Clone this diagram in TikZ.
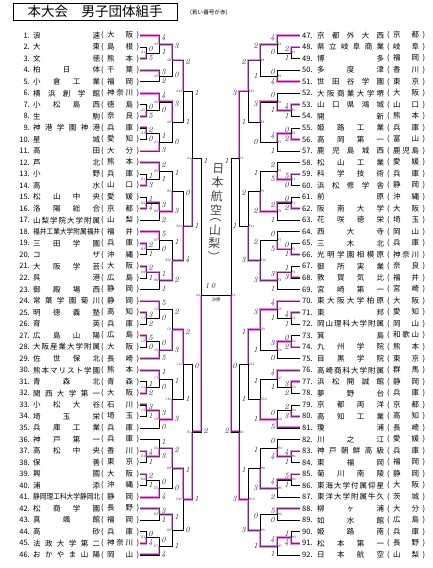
\documentclass[tikz,border=0pt]{standalone}
\usepackage{fontspec}
\usepackage{graphicx}
\usetikzlibrary{calc}
\newfontfamily\jp{Noto Sans CJK JP}
\definecolor{pinkhl}{RGB}{232,140,222}
\definecolor{purp}{RGB}{120,40,120}
\pgfdeclarelayer{bg}
\pgfsetlayers{bg,main}

% spread the characters of a name over a box
\def\sprd#1#2\sprdend{#1\if\relax\detokenize{#2}\relax\else\hfill\sprd#2\sprdend\fi}
\newcommand\namebox[2]{\setbox0\hbox{#2}%
  \ifdim\wd0>#1\relax\resizebox{#1}{\height}{#2}\else\hbox to #1{\expandafter\sprd#2\sprdend}\fi}
\newcommand\prefbox[1]{\hbox to 38pt{(\hfil\hbox to 26pt{\expandafter\sprd#1\sprdend}\hfil)}}

% one match: name, x, top, bottom, winner, label, top score, bottom score, side
\newcommand\bout[9]{%
  \path let \p1=($(#3)!.5!(#4)$) in coordinate (#1) at (#2pt,\y1);
  \begin{pgfonlayer}{bg}
    \ifnum#5=1 \draw[hl] (#3) -- (#3 -| #1) -- (#1);
    \else \draw[hl] (#4) -- (#4 -| #1) -- (#1); \fi
  \end{pgfonlayer}
  \draw[ln] (#3) -- (#3 -| #1) -- (#4 -| #1) -- (#4);
  \ifnum#5=1 \draw[wn] (#3) -- (#3 -| #1) -- (#1);
  \else \draw[wn] (#4) -- (#4 -| #1) -- (#1); \fi
  \ifnum#9>0 \node[lbl,anchor=east] at ($(#1)+(-0.6,0)$) {#6};
  \else \node[lbl,anchor=west] at ($(#1)+(0.6,0)$) {#6}; \fi
  \node[sc] at ($(#3 -| #1)+(#9*4.5,2)$) {#7};
  \node[sc] at ($(#4 -| #1)+(#9*4.5,-0.5)$) {#8};
}

\begin{document}
\begin{tikzpicture}[x=1pt,y=-1pt,
    team/.style={inner sep=0pt,font=\jp\fontsize{7.5}{8}\selectfont},
    ln/.style={line width=0.55pt,black},
    wn/.style={line width=0.75pt,purp},
    hl/.style={line width=2.8pt,pinkhl},
    lbl/.style={inner sep=0pt,font=\jp\fontsize{3.2}{3.2}\selectfont,black!75},
    sc/.style={inner sep=0pt,font=\itshape\fontsize{8}{8}\selectfont,black!85},
    hand/.style={inner sep=0pt,font=\jp\fontsize{12}{13.5}\selectfont,black!75}]
\useasboundingbox (0,0) rectangle (432,568);

% title
\node[draw,line width=0.8pt,minimum width=164pt,minimum height=17pt,inner sep=0pt,
      font=\jp\fontsize{13.5}{14}\selectfont] (title) at (95,11.5) {本大会　男子団体組手};
\node[inner sep=0pt,anchor=west,font=\jp\fontsize{5.6}{6}\selectfont] (note) at (190,13) {(若い番号が赤)};

% teams, left
\foreach \n/\p [count=\i] in {浪速/大阪,大東/島根,文徳/熊本,柏日体/千葉,小倉工業/福岡,
    横浜創学館/神奈川,小松島西/徳島,生駒/奈良,神港学園神港/兵庫,星城/愛知,高田/大分,
    芦北/熊本,小野/兵庫,高水/山口,松山中央/愛媛,洛陽総合/京都,山梨学院大学附属/山梨,
    福井工業大学附属福井/福井,三田学園/兵庫,コザ/沖縄,大阪学芸/大阪,呉港/広島,御殿場西/静岡,
    常葉学園菊川/静岡,明徳義塾/高知,育英/兵庫,広島山陽/広島,大阪産業大学附属/大阪,佐世保北/長崎,
    熊本マリスト学園/熊本,青森北/青森,関西大学第一/大阪,小松大谷/石川,埼玉栄/埼玉,兵庫工業/兵庫,
    神戸第一/兵庫,高松中央/香川,保善/東京,興國/大阪,浦添/沖縄,静岡理工科大学静岡北/静岡,
    松商学園/長野,真颯館/福岡,高砂/兵庫,法政大学第二/神奈川,おかやま山陽/岡山}{
  \pgfmathsetmacro\yy{35.5+(\i-1)*11.54}
  \node[team,anchor=east] (n\i) at (30,\yy) {\i.};
  \node[team,anchor=west] (s\i) at (33,\yy) {\namebox{67pt}{\n}};
  \node[team,anchor=west] (p\i) at (101,\yy) {\prefbox{\p}};
  \coordinate (t\i) at (139.5,\yy);
}

% teams, right
\foreach \n/\p [count=\i from 47] in {京都外大西/京都,県立岐阜商業/岐阜,博多/福岡,多度津/香川,
    世田谷学園/東京,大阪商業大学堺/大阪,山口県鴻城/山口,開新/熊本,姫路工業/兵庫,高岡第一/富山,
    鹿児島城西/鹿児島,松山工業/愛媛,科学技術/兵庫,浜松修学舎/静岡,前原/沖縄,阪南大学/大阪,
    花咲徳栄/埼玉,西大寺/岡山,三木北/兵庫,光明学園相模原/神奈川,御所実業/奈良,敦賀気比/福井,
    宮崎第一/宮崎,東大阪大学柏原/大阪,東邦/愛知,岡山理科大学附属/岡山,箕島/和歌山,九州学院/熊本,
    目黒学院/東京,高崎商科大学附属/群馬,浜松開誠館/静岡,夢野台/兵庫,京都両洋/京都,高知工業/高知,
    瓊浦/長崎,川之江/愛媛,神戸朝鮮高級/兵庫,東福岡/福岡,菊川南陵/静岡,東海大学付属仰星/大阪,
    東洋大学附属牛久/茨城,柳ヶ浦/大分,如水館/広島,姫路南/兵庫,松本第一/長野,日本航空/山梨}{
  \pgfmathsetmacro\yy{35.5+(\i-47)*11.54}
  \node[team,anchor=west] (n\i) at (302,\yy) {\i.};
  \node[team,anchor=west] (s\i) at (317,\yy) {\namebox{67pt}{\n}};
  \node[team,anchor=west] (p\i) at (387,\yy) {\prefbox{\p}};
  \coordinate (t\i) at (300,\yy);
}

% block A
\bout{A1}{146}{t2}{t3}{2}{A1}{0}{5}{1}
\bout{A2}{146}{t7}{t8}{2}{A2}{0}{5}{1}
\bout{A3}{146}{t9}{t10}{1}{A3}{2}{0}{1}
\bout{A4}{159}{t1}{A1}{1}{A4}{4}{1}{1}
\bout{A5}{159}{t4}{t5}{1}{A5}{3}{2}{1}
\bout{A6}{159}{t6}{A2}{1}{A6}{4}{0}{1}
\bout{A7}{159}{A3}{t11}{2}{A7}{1}{3}{1}
\bout{A8}{172}{A4}{A5}{1}{A8}{3}{0}{1}
\bout{A9}{172}{A6}{A7}{1}{A9}{3}{0}{1}
\bout{A10}{183}{A8}{A9}{1}{A10}{2}{1}{1}
% block B
\bout{B1}{146}{t13}{t14}{2}{B1}{1}{3}{1}
\bout{B2}{146}{t15}{t16}{2}{B2}{1}{4}{1}
\bout{B3}{146}{t19}{t20}{1}{B3}{2}{1}{1}
\bout{B4}{146}{t21}{t22}{1}{B4}{2}{1}{1}
\bout{B5}{159}{t12}{B1}{1}{B5}{2}{1}{1}
\bout{B6}{159}{B2}{t17}{1}{B6}{3}{2}{1}
\bout{B7}{159}{t18}{B3}{1}{B7}{5}{0}{1}
\bout{B8}{159}{B4}{t23}{1}{B8}{1}{1}{1}
\bout{B9}{172}{B5}{B6}{2}{B9}{1}{3}{1}
\bout{B10}{172}{B7}{B8}{2}{B10}{1}{2}{1}
\bout{B11}{183}{B9}{B10}{2}{B11}{0}{4}{1}
% block C
\bout{C1}{146}{t25}{t26}{1}{C1}{3}{2}{1}
\bout{C2}{146}{t27}{t28}{1}{C2}{5}{0}{1}
\bout{C3}{146}{t31}{t32}{2}{C3}{1}{2}{1}
\bout{C4}{146}{t33}{t34}{1}{C4}{3}{1}{1}
\bout{C5}{159}{t24}{C1}{1}{C5}{5}{0}{1}
\bout{C6}{159}{C2}{t29}{2}{C6}{0}{5}{1}
\bout{C7}{159}{t30}{C3}{1}{C7}{1}{0}{1}
\bout{C8}{159}{C4}{t35}{1}{C8}{3}{0}{1}
\bout{C9}{172}{C5}{C6}{2}{C9}{2}{3}{1}
\bout{C10}{172}{C7}{C8}{2}{C10}{1}{3}{1}
\bout{C11}{183}{C9}{C10}{1}{C11}{2}{1}{1}
% block D
\bout{D1}{146}{t37}{t38}{1}{D1}{4}{1}{1}
\bout{D2}{146}{t39}{t40}{1}{D2}{2}{1}{1}
\bout{D3}{146}{t44}{t45}{2}{D3}{0}{4}{1}
\bout{D4}{159}{t36}{D1}{2}{D4}{1}{3}{1}
\bout{D5}{159}{D2}{t41}{2}{D5}{0}{4}{1}
\bout{D6}{159}{t42}{t43}{1}{D6}{3}{1}{1}
\bout{D7}{159}{D3}{t46}{2}{D7}{0}{4}{1}
\bout{D8}{172}{D4}{D5}{1}{D8}{2}{0}{1}
\bout{D9}{172}{D6}{D7}{1}{D9}{1}{1}{1}
\bout{D10}{183}{D8}{D9}{1}{D10}{1}{0}{1}
% left semifinals and final
\bout{xAB}{192}{A10}{B11}{2}{A1}{1}{1}{1}
\bout{xCD}{192}{C11}{D10}{2}{B1}{0}{1}{1}
\bout{xL}{201}{xAB}{xCD}{2}{A2}{1}{2}{1}

% block E
\bout{E1}{291}{t48}{t49}{1}{E1}{2}{1}{-1}
\bout{E2}{291}{t53}{t54}{1}{E2}{4}{1}{-1}
\bout{E3}{291}{t55}{t56}{2}{E3}{0}{2}{-1}
\bout{E4}{277}{t47}{E1}{1}{E4}{4}{0}{-1}
\bout{E5}{277}{t50}{t51}{2}{E5}{0}{4}{-1}
\bout{E6}{277}{t52}{E2}{2}{E6}{0}{1}{-1}
\bout{E7}{277}{E3}{t57}{1}{E7}{4}{1}{-1}
\bout{E8}{260}{E4}{E5}{1}{E8}{2}{1}{-1}
\bout{E9}{260}{E6}{E7}{1}{E9}{3}{0}{-1}
\bout{E10}{248}{E8}{E9}{1}{E10}{2}{1}{-1}
% block F
\bout{F1}{291}{t59}{t60}{1}{F1}{5}{0}{-1}
\bout{F2}{291}{t61}{t62}{2}{F2}{0}{2}{-1}
\bout{F3}{291}{t65}{t66}{2}{F3}{0}{1}{-1}
\bout{F4}{291}{t67}{t68}{2}{F4}{1}{3}{-1}
\bout{F5}{277}{t58}{F1}{2}{F5}{2}{5}{-1}
\bout{F6}{277}{F2}{t63}{1}{F6}{2}{1}{-1}
\bout{F7}{277}{t64}{F3}{2}{F7}{0}{5}{-1}
\bout{F8}{277}{F4}{t69}{1}{F8}{3}{1}{-1}
\bout{F9}{260}{F5}{F6}{2}{F9}{1}{2}{-1}
\bout{F10}{260}{F7}{F8}{2}{F10}{2}{3}{-1}
\bout{F11}{248}{F9}{F10}{2}{F11}{2}{3}{-1}
% block G
\bout{G1}{291}{t71}{t72}{1}{G1}{4}{1}{-1}
\bout{G2}{291}{t73}{t74}{2}{G2}{0}{2}{-1}
\bout{G3}{291}{t77}{t78}{1}{G3}{3}{2}{-1}
\bout{G4}{291}{t79}{t80}{2}{G4}{2}{3}{-1}
\bout{G5}{277}{t70}{G1}{1}{G5}{4}{1}{-1}
\bout{G6}{277}{G2}{t75}{1}{G6}{3}{0}{-1}
\bout{G7}{277}{t76}{G3}{1}{G7}{4}{1}{-1}
\bout{G8}{277}{G4}{t81}{2}{G8}{0}{5}{-1}
\bout{G9}{260}{G5}{G6}{1}{G9}{3}{1}{-1}
\bout{G10}{260}{G7}{G8}{2}{G10}{1}{1}{-1}
\bout{G11}{248}{G9}{G10}{1}{G11}{1}{1}{-1}
% block H
\bout{H1}{291}{t83}{t84}{1}{H1}{4}{1}{-1}
\bout{H2}{291}{t85}{t86}{1}{H2}{5}{1}{-1}
\bout{H3}{291}{t90}{t91}{2}{H3}{1}{4}{-1}
\bout{H4}{277}{t82}{H1}{2}{H4}{0}{4}{-1}
\bout{H5}{277}{H2}{t87}{1}{H5}{4}{2}{-1}
\bout{H6}{277}{t88}{t89}{1}{H6}{5}{0}{-1}
\bout{H7}{277}{H3}{t92}{1}{H7}{4}{1}{-1}
\bout{H8}{260}{H4}{H5}{2}{H8}{1}{3}{-1}
\bout{H9}{260}{H6}{H7}{2}{H9}{0}{1}{-1}
\bout{H10}{248}{H8}{H9}{2}{H10}{1}{3}{-1}
% right semifinals and final
\bout{xEF}{239}{E10}{F11}{1}{C1}{3}{1}{-1}
\bout{xGH}{239}{G11}{H10}{2}{D1}{0}{3}{-1}
\bout{xR}{231}{xEF}{xGH}{2}{C2}{1}{2}{-1}

% final
\draw[ln] (xL) -- (xR);
\node[lbl,font=\jp\fontsize{4.5}{5}\selectfont,anchor=north] (final) at ($(xL)!.5!(xR)+(0,2)$) {決勝};
\node[sc] (fs1) at ($(xL)+(6,-9)$) {1};
\node[sc] (fs2) at ($(xL)+(12,-9)$) {0};

% winner written by hand
\node[hand,rotate=-3] (champ) at (216,213) {\shortstack{日\\本\\航\\空\\︵\\山\\梨\\︶}};
\end{tikzpicture}
\end{document}
